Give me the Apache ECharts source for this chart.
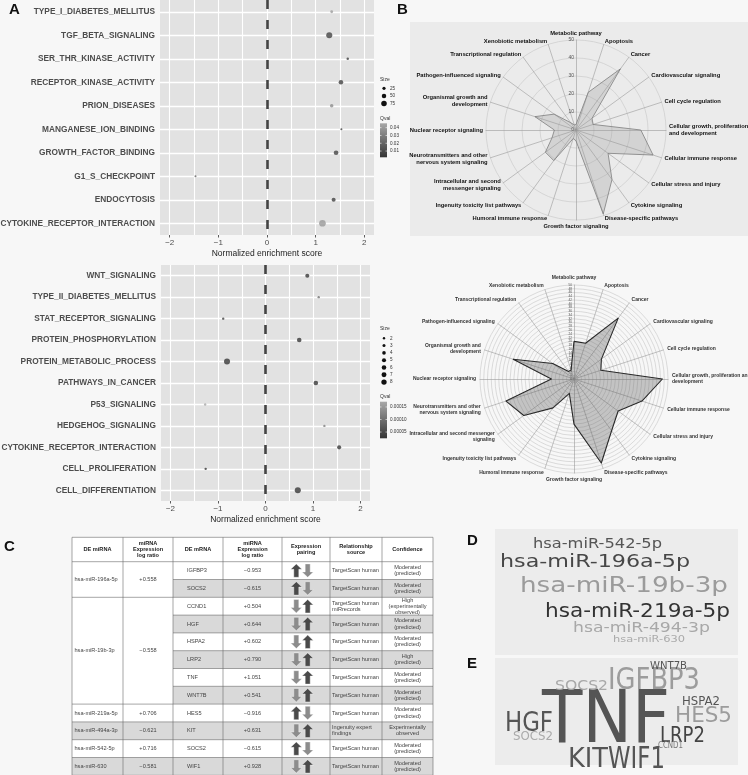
<!DOCTYPE html>
<html><head><meta charset="utf-8">
<script src="https://cdn.jsdelivr.net/npm/echarts@6/dist/echarts.min.js"></script>
<style>html,body{margin:0;padding:0;background:#f7f7f7;}#c{width:748px;height:775px;}</style>
</head><body><div id="c"></div>
<script>
// ---------- Panel A data ----------
const topPathways = ['TYPE_I_DIABETES_MELLITUS','TGF_BETA_SIGNALING','SER_THR_KINASE_ACTIVITY','RECEPTOR_KINASE_ACTIVITY','PRION_DISEASES','MANGANESE_ION_BINDING','GROWTH_FACTOR_BINDING','G1_S_CHECKPOINT','ENDOCYTOSIS','CYTOKINE_RECEPTOR_INTERACTION'];
const topNES = [1.33,1.28,1.66,1.52,1.33,1.53,1.42,-1.47,1.37,1.14];
const topSize = [20,90,15,50,30,10,55,10,40,110];
const topQval = [0.042,0.008,0.006,0.007,0.035,0.006,0.008,0.018,0.007,0.040];
const topSizeBreaks = [25,50,75];
const topQBreaks = [0.04,0.03,0.02,0.01];

const bottomPathways = ['WNT_SIGNALING','TYPE_II_DIABETES_MELLITUS','STAT_RECEPTOR_SIGNALING','PROTEIN_PHOSPHORYLATION','PROTEIN_METABOLIC_PROCESS','PATHWAYS_IN_CANCER','P53_SIGNALING','HEDGEHOG_SIGNALING','CYTOKINE_RECEPTOR_INTERACTION','CELL_PROLIFERATION','CELL_DIFFERENTIATION'];
const bottomNES = [0.88,1.12,-0.89,0.71,-0.81,1.06,-1.27,1.24,1.55,-1.26,0.68];
const bottomSize = [5,2,2,6,10,6,2,2,5,2,10];
const bottomQval = [0.00003,0.00010,0.00004,0.00003,0.00003,0.00003,0.00017,0.00012,0.00003,0.00003,0.00003];
const bottomSizeBreaks = [2,3,4,5,6,7,8];
const bottomQBreaks = [0.00015,0.00010,0.00005];

const xTicks = [-2,-1,0,1,2];
const xGridValues = [-2,-1.5,-1,-0.5,0,0.5,1,1.5,2];

// ---------- Panel B data ----------
const radarNamesTop = ['Metabolic pathway','Apoptosis','Cancer','Cardiovascular signaling','Cell cycle regulation','Cellular growth, proliferation\nand development','Cellular immune response','Cellular stress and injury','Cytokine signaling','Disease-specific pathways','Growth factor signaling','Humoral immune response','Ingenuity toxicity list pathways','Intracellular and second\nmessenger signaling','Neurotransmitters and other\nnervous system signaling','Nuclear receptor signaling','Organismal growth and\ndevelopment','Pathogen-influenced signaling','Transcriptional regulation','Xenobiotic metabolism'];
const radarNamesBottom = ['Metabolic pathway','Apoptosis','Cancer','Cardiovascular signaling','Cell cycle regulation','Cellular growth, proliferation an\ndevelopment','Cellular immune response','Cellular stress and injury','Cytokine signaling','Disease-specific pathways','Growth factor signaling','Humoral immune response','Ingenuity toxicity list pathways','Intracellular and second messenger\nsignaling','Neurotransmitters and other\nnervous system signaling','Nuclear receptor signaling','Organismal growth and\ndevelopment','Pathogen-influenced signaling','Transcriptional regulation','Xenobiotic metabolism'];
const radarTopValues = [3,22,42,11,10,36,45,22,34,49,6,5,21,21,14,12,24,15,5,3];
const radarBottomValues = [20,20,40,18,15,47,38,29,34,47,24,8,19,33,38,12,34,14,5,5];

// ---------- Panel C data ----------
const tableHeaders = ['DE miRNA','miRNA\nExpression\nlog ratio','DE mRNA','miRNA\nExpression\nlog ratio','Expression\npairing','Relationship\nsource','Confidence'];
const miRNAs = ['hsa-miR-196a-5p','hsa-miR-19b-3p','hsa-miR-219a-5p','hsa-miR-494a-3p','hsa-miR-542-5p','hsa-miR-630'];
const miRNARatios = ['+0.558','\u22120.558','+0.706','\u22120.621','+0.716','\u22120.581'];
const miRNATargetCounts = [2,6,1,1,1,1];
const mRNAs = ['IGFBP3','SOCS2','CCND1','HGF','HSPA2','LRP2','TNF','WNT7B','HES5','KIT','SOCS2','WIF1'];
const mRNARatios = ['\u22120.953','\u22120.615','+0.504','+0.644','+0.602','+0.790','+1.051','+0.541','\u22120.916','+0.631','\u22120.615','+0.928'];
const relSources = ['TargetScan human','TargetScan human','TargetScan human\nmiRrecords','TargetScan human','TargetScan human','TargetScan human','TargetScan human','TargetScan human','TargetScan human','Ingenuity expert\nfindings','TargetScan human','TargetScan human'];
const confidences = ['Moderated\n(predicted)','Moderated\n(predicted)','High\n(experimentally\nobserved)','Moderated\n(predicted)','Moderated\n(predicted)','High\n(predicted)','Moderated\n(predicted)','Moderated\n(predicted)','Moderated\n(predicted)','Experimentally\nobserved','Moderated\n(predicted)','Moderated\n(predicted)'];

// ---------- Panel D / E data ----------
const miRNAWords = ['hsa-miR-542-5p','hsa-miR-196a-5p','hsa-miR-19b-3p','hsa-miR-219a-5p','hsa-miR-494-3p','hsa-miR-630'];
const mRNAWords = ['TNF','IGFBP3','SOCS2','WNT7B','HSPA2','HES5','HGF','SOCS2','LRP2','CCND1','KIT','WIF1'];

// ---------- layout / style (not data) ----------
const SANS = '"Liberation Sans",Arial,sans-serif';
const miRNALayout = [[533,544.7,129,14,'#555'],[500,562.5,190,18.5,'#474747'],[520,586.7,208,20.5,'#9b9b9b'],[545,612,185,19.5,'#333'],[573,628.3,137,13.5,'#a8a8a8'],[613,640,72,8.5,'#aaa']];
const mRNALayout = [[542,723,128,73,'#555'],[608,681,92,29.7,'#9c9c9c'],[555,686.3,53,14.6,'#a8a8a8'],[650,666,37,10,'#555'],[682,702,38,11.4,'#555'],[675,716.5,57,20.5,'#9c9c9c'],[505,724,48,27.4,'#555'],[513,737,40,11.4,'#aaa'],[660,736.5,45,20.5,'#444'],[658,746,25,9.1,'#777'],[568,760,40,27.4,'#555'],[608,760,57,29.6,'#555']];

function grayOf(q, lo, hi){ let t=(q-lo)/(hi-lo); t=Math.max(0,Math.min(1,t)); const v=Math.round(52+t*(168-52)); return 'rgb('+v+','+v+','+v+')'; }
const qTopRange=[0.002,0.0456], qBotRange=[0.000025,0.000171];
const dTop = s => 0.64*Math.sqrt(s);
const dBot = s => 2.1*Math.sqrt(s)-0.6;

function mkX(i){
  return {type:'value', gridIndex:i, min:-2.2, max:2.2,
    splitLine:{show:false}, axisLine:{show:false},
    axisTick:{show:true, length:2.5, customValues:xTicks, lineStyle:{color:'#333', width:0.8}},
    axisLabel:{customValues:xTicks, color:'#4d4d4d', fontSize:8, margin:4, fontFamily:SANS,
      formatter:v=>(v<0?'\u2212':'')+Math.abs(v)},
    name:'Normalized enrichment score', nameLocation:'middle', nameGap:14,
    nameTextStyle:{color:'#222', fontSize:8.5, fontFamily:SANS}};
}
function mkY(i,cats){
  return {type:'category', gridIndex:i, data:cats, inverse:true,
    axisLine:{show:false},
    axisTick:{show:true, alignWithLabel:true, interval:0, length:2.5, lineStyle:{color:'#333', width:0.8}},
    axisLabel:{interval:0, margin:5, color:'#4d4d4d', fontSize:8.3, fontWeight:'bold', fontFamily:SANS},
    splitLine:{show:false}};
}
function vGridLines(i){
  return {type:'scatter', xAxisIndex:i, yAxisIndex:i, data:[], silent:true, z:1,
    markLine:{silent:true, z:1, animation:false, symbol:['none','none'], label:{show:false},
      lineStyle:{color:'#ffffff', width:1.1, type:'solid'},
      data: xGridValues.map(v=>({xAxis:v}))}};
}
function hGridLines(i,cats){
  return {type:'scatter', xAxisIndex:i, yAxisIndex:i, data:[], silent:true, z:1,
    markLine:{silent:true, z:1, animation:false, symbol:['none','none'], label:{show:false},
      lineStyle:{color:'#ffffff', width:1.3, type:'solid'},
      data: cats.map((c,k)=>({yAxis:k}))}};
}
function zeroLine(i){
  return {type:'scatter', xAxisIndex:i, yAxisIndex:i, data:[], silent:true, z:2,
    markLine:{silent:true, z:2, animation:false, symbol:['none','none'], label:{show:false},
      lineStyle:{color:'#444', width:2.6, type:[9,11]}, data:[{xAxis:0}]}};
}
function points(i,cats,nes,size,q,dfun,qr){
  return {type:'scatter', xAxisIndex:i, yAxisIndex:i, z:3, silent:true,
    data: cats.map((c,k)=>({value:[nes[k],c], symbolSize:dfun(size[k]), itemStyle:{color:grayOf(q[k],qr[0],qr[1])}}))};
}
const ccw = arr => [arr[0]].concat(arr.slice(1).reverse());
function mkRadar(names, center, radius, split, labelSize, nameColor, nameSize, gap){
  return {center:center, radius:radius, startAngle:90, shape:'circle', splitNumber:split, z:1,
    indicator: ccw(names).map((n,i)=> i===0 ? {name:n, min:0, max:50, axisLabel:{show:true, fontSize:labelSize, color:'#555', margin:2, fontFamily:SANS}} : {name:n, min:0, max:50}),
    axisName:{color:nameColor, fontSize:nameSize, fontWeight:'bold', fontFamily:SANS, lineHeight:nameSize+1.2},
    nameGap:gap,
    axisLine:{lineStyle:{color:'#9a9a9a', width:0.6}},
    splitLine:{lineStyle:{color:'#c6c6c6', width:0.6}},
    splitArea:{show:false}, axisTick:{show:false}, axisLabel:{show:false}};
}

// ---------- graphic elements ----------
const G = [];
G.push({type:'rect', z:-1, shape:{x:410,y:22,width:338,height:214}, style:{fill:'#ebebeb'}});
G.push({type:'rect', z:-1, shape:{x:495,y:529,width:243,height:126}, style:{fill:'#ececec'}});
G.push({type:'rect', z:-1, shape:{x:495,y:658,width:243,height:107}, style:{fill:'#ececec'}});
[['A',9,10],['B',397,10],['C',4,547],['D',467,541],['E',467,664]].forEach(p=>G.push({type:'text', z:20, x:p[1], y:p[2], style:{text:p[0], fontSize:15, fontWeight:'bold', fontFamily:SANS, fill:'#111', verticalAlign:'middle'}}));

function legend(x0, sizeTitleY, breaks, dfun, dotY0, dotStep, qTitleY, barY0, barY1, qBreaks, qr){
  const t = (txt,x,y,fs)=>G.push({type:'text', z:20, x:x, y:y, style:{text:txt, fontSize:fs, fontFamily:SANS, fill:'#333', verticalAlign:'middle'}});
  t('Size', x0, sizeTitleY, 5);
  breaks.forEach((b,k)=>{
    const y = dotY0 + k*dotStep;
    G.push({type:'circle', z:20, shape:{cx:x0+4, cy:y, r:dfun(b)/2}, style:{fill:'#111'}});
    t(String(b), x0+10, y, 4.6);
  });
  t('Qval', x0, qTitleY, 5);
  G.push({type:'rect', z:20, shape:{x:x0, y:barY0, width:7, height:barY1-barY0},
    style:{fill:new echarts.graphic.LinearGradient(0,0,0,1,[{offset:0,color:grayOf(qr[1],qr[0],qr[1])},{offset:1,color:grayOf(qr[0],qr[0],qr[1])}])}});
  qBreaks.forEach(q=>{
    const y = barY1 - (q-qr[0])/(qr[1]-qr[0])*(barY1-barY0);
    G.push({type:'line', z:21, shape:{x1:x0,y1:y,x2:x0+1.5,y2:y}, style:{stroke:'#fff', lineWidth:0.6}});
    G.push({type:'line', z:21, shape:{x1:x0+5.5,y1:y,x2:x0+7,y2:y}, style:{stroke:'#fff', lineWidth:0.6}});
    t(q.toFixed(q<0.001?5:2), x0+10, y, 4.6);
  });
}
legend(380, 79.5, topSizeBreaks, dTop, 88.3, 7.6, 118.5, 123.3, 157.3, topQBreaks, qTopRange);
legend(380, 328.5, bottomSizeBreaks, dBot, 338.3, 7.3, 396.7, 401.7, 438.3, bottomQBreaks, qBotRange);

// ---------- table (panel C) ----------
const colX = [72,123,173,223,282,330,382,433];
const headTop = 537.3, headH = 24.4, rowH = 17.8;
const nRows = mRNAs.length;
const rowY = r => headTop + headH + r*rowH;
const groupStart = []; {let s=0; miRNATargetCounts.forEach(n=>{groupStart.push(s); s+=n;});}
G.push({type:'rect', z:2, shape:{x:colX[0], y:headTop, width:colX[7]-colX[0], height:headH+nRows*rowH}, style:{fill:'#ffffff'}});
for(let r=0;r<nRows;r++){
  if(r%2===1){
    G.push({type:'rect', z:3, shape:{x:colX[2], y:rowY(r), width:colX[7]-colX[2], height:rowH}, style:{fill:'#d9d9d9'}});
  }
}
miRNAs.forEach((m,g)=>{
  const s = groupStart[g], n = miRNATargetCounts[g];
  if(n===1 && s%2===1){
    G.push({type:'rect', z:3, shape:{x:colX[0], y:rowY(s), width:colX[2]-colX[0], height:rowH}, style:{fill:'#d9d9d9'}});
  }
  const cy = rowY(s) + n*rowH/2;
  G.push({type:'text', z:6, x:colX[0]+2.5, y:cy, style:{text:m, fontSize:5.6, fontFamily:SANS, fill:'#444', verticalAlign:'middle'}});
  G.push({type:'text', z:6, x:(colX[1]+colX[2])/2, y:cy, style:{text:miRNARatios[g], fontSize:5.6, fontFamily:SANS, fill:'#444', align:'center', verticalAlign:'middle'}});
  const up = miRNARatios[g].charAt(0)==='+';
  for(let k=0;k<n;k++){
    const rcy = rowY(s+k)+rowH/2;
    const cx = (colX[4]+colX[5])/2 - 4;
    const arrow = (ax, isUp, col) => {
      const h=6.7, hw=5.6, sw=2.5, hh=5.4, sg = isUp?1:-1;
      const pts=[[ax,rcy-sg*h],[ax+hw,rcy-sg*(h-hh)],[ax+sw,rcy-sg*(h-hh)],[ax+sw,rcy+sg*h],[ax-sw,rcy+sg*h],[ax-sw,rcy-sg*(h-hh)],[ax-hw,rcy-sg*(h-hh)]];
      G.push({type:'polygon', z:7, shape:{points:pts}, style:{fill:col, stroke:'#ffffff', lineWidth:0.4}});
    };
    arrow(cx-5.7, up, up?'#4a4a4a':'#8c8c8c');
    arrow(cx+5.7, !up, up?'#8c8c8c':'#4a4a4a');
  }
});
mRNAs.forEach((m,r)=>{
  const cy = rowY(r)+rowH/2;
  const txt = (s,x,al)=>G.push({type:'text', z:6, x:x, y:cy, style:{text:s, fontSize:5.6, lineHeight:6.2, fontFamily:SANS, fill:'#444', align:al, verticalAlign:'middle'}});
  txt(m, colX[2]+14, 'left');
  txt(mRNARatios[r], (colX[3]+colX[4])/2, 'center');
  txt(relSources[r], colX[5]+2, 'left');
  txt(confidences[r], (colX[6]+colX[7])/2, 'center');
});
tableHeaders.forEach((h,c)=>{
  G.push({type:'text', z:6, x:(colX[c]+colX[c+1])/2, y:headTop+headH/2, style:{text:h, fontSize:5.6, lineHeight:6.4, fontWeight:'bold', fontFamily:SANS, fill:'#222', align:'center', verticalAlign:'middle'}});
});
const lineSt = {stroke:'#6a6a6a', lineWidth:0.6};
colX.forEach(x=>G.push({type:'line', z:8, shape:{x1:x,y1:headTop,x2:x,y2:rowY(nRows)}, style:lineSt}));
G.push({type:'line', z:8, shape:{x1:colX[0],y1:headTop,x2:colX[7],y2:headTop}, style:lineSt});
for(let r=0;r<=nRows;r++){
  const isGroupEdge = groupStart.includes(r) || r===nRows;
  G.push({type:'line', z:8, shape:{x1:isGroupEdge?colX[0]:colX[2], y1:rowY(r), x2:colX[7], y2:rowY(r)}, style:lineSt});
}

// ---------- word clouds (panels D, E) ----------
const meas = document.createElement('canvas').getContext('2d');
function cloud(words, layout){
  words.forEach((w,i)=>{
    const L = layout[i];
    meas.font = L[3]+'px "DejaVu Sans"';
    const sx = L[2]/meas.measureText(w).width;
    G.push({type:'text', z:10, x:L[0], y:L[1], scaleX:sx, style:{text:w, fontSize:L[3], fontFamily:'"DejaVu Sans",sans-serif', fill:L[4], verticalAlign:'middle', align:'left'}});
  });
}
cloud(miRNAWords, miRNALayout);
cloud(mRNAWords, mRNALayout);

const chart = echarts.init(document.getElementById('c'), null, {width:748, height:775});
chart.setOption({
  backgroundColor:'#f7f7f7',
  animation:false,
  grid:[
    {left:160, top:0, width:214, height:235, show:true, backgroundColor:'#e2e2e2', borderWidth:0, containLabel:false, outerBoundsMode:'none'},
    {left:161, top:265, width:209, height:236, show:true, backgroundColor:'#e2e2e2', borderWidth:0, containLabel:false, outerBoundsMode:'none'}
  ],
  xAxis:[mkX(0), mkX(1)],
  yAxis:[mkY(0, topPathways), mkY(1, bottomPathways)],
  radar:[
    mkRadar(radarNamesTop, [576,130], 90, 5, 5, '#111', 5.8, 3),
    mkRadar(radarNamesBottom, [574,379], 94, 25, 3.2, '#333', 5.0, 4)
  ],
  series:[
    vGridLines(0), hGridLines(0, topPathways), zeroLine(0), points(0, topPathways, topNES, topSize, topQval, dTop, qTopRange),
    vGridLines(1), hGridLines(1, bottomPathways), zeroLine(1), points(1, bottomPathways, bottomNES, bottomSize, bottomQval, dBot, qBotRange),
    {type:'radar', radarIndex:0, z:3, symbol:'none', silent:true,
      data:[{value:ccw(radarTopValues)}], lineStyle:{color:'#7a7a7a', width:0.8}, areaStyle:{color:'rgba(150,150,150,0.4)'}},
    {type:'radar', radarIndex:1, z:3, symbol:'none', silent:true,
      data:[{value:ccw(radarBottomValues)}], lineStyle:{color:'#222', width:1.1}, areaStyle:{color:'rgba(85,85,85,0.45)'}}
  ],
  graphic:{elements:G}
});
</script></body></html>
